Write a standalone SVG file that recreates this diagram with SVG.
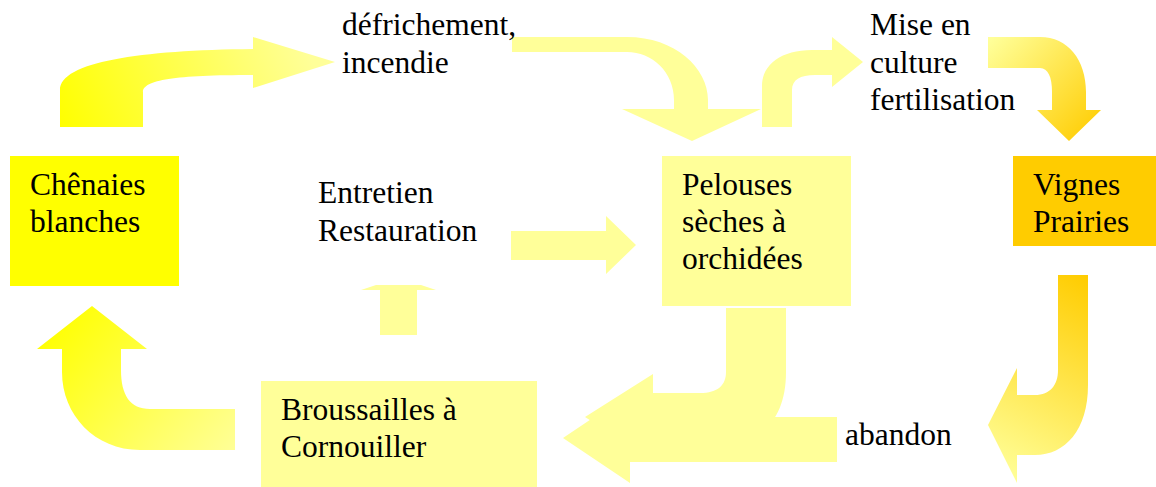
<svg xmlns="http://www.w3.org/2000/svg" width="1156" height="487" viewBox="0 0 1156 487">
<style>
  .t { font-family: "Liberation Serif", "Times New Roman", serif; font-size: 31.5px; fill: #000; }
  .light { fill: #FFFF99; }
</style>
<defs>
  <linearGradient id="g1" gradientUnits="userSpaceOnUse" x1="60" y1="127" x2="300" y2="30">
    <stop offset="0" stop-color="#FFFF00"/>
    <stop offset="1" stop-color="#FFFF99"/>
  </linearGradient>
  <linearGradient id="g4" gradientUnits="userSpaceOnUse" x1="990" y1="40" x2="1095" y2="140">
    <stop offset="0" stop-color="#FFFF99"/>
    <stop offset="1" stop-color="#FFCC00"/>
  </linearGradient>
  <linearGradient id="g5" gradientUnits="userSpaceOnUse" x1="1095" y1="280" x2="990" y2="470">
    <stop offset="0" stop-color="#FFCC00"/>
    <stop offset="1" stop-color="#FFFF99"/>
  </linearGradient>
  <linearGradient id="g8" gradientUnits="userSpaceOnUse" x1="60" y1="310" x2="235" y2="455">
    <stop offset="0" stop-color="#FFFF00"/>
    <stop offset="1" stop-color="#FFFF99"/>
  </linearGradient>
</defs>
<rect width="1156" height="487" fill="#FFFFFF"/>

<g id="connectors">
  <path id="a-chenaies-defrichement" fill="url(#g1)" d="M60,127 V90 C60,62 140,50 253,49 V37 L335,62 L253,88 V75 C175,75 143,80 143,92 V127 Z"/>
  <path id="a-defrichement-pelouses" class="light" d="M512,37 H627 C675,37 708,68 708,100 V109 H761 L692,141 L622,109 H674 V100 C674,72 652,52 627,52 H512 Z"/>
  <path id="a-pelouses-mise" class="light" d="M762,127 V86 C762,64 782,50 812,50 H832 V37 L863,62 L832,87 V75 H815 C800,75 792,80 792,90 V127 Z"/>
  <path id="a-mise-vignes" fill="url(#g4)" d="M988,37 H1040 C1068,37 1086,60 1086,92 V110 H1101 L1069,141 L1037,110 H1052 V92 C1052,77 1048,68 1040,68 H988 Z"/>
  <path id="a-vignes-abandon" fill="url(#g5)" d="M1058,275 H1088 V385 C1088,430 1065,455 1035,455 H1017 V483 L988,425 L1017,368 V395 H1035 C1050,395 1058,385 1058,370 Z"/>
  <path id="a-pelouses-broussailles" class="light" d="M726,308 H786 V372 C786,410 770,432 745,441 H653 V460 L585,417 L653,374 V393 H700 C718,393 726,385 726,372 Z"/>
  <path id="a-abandon-broussailles" class="light" d="M837,417 V462 H630 V483 L563,438 L630,393 V417 Z"/>
  <path id="a-broussailles-chenaies" fill="url(#g8)" d="M235,409 V450 H140 C95,450 62,415 62,372 V349 H37 L92,306 L147,349 H121 V370 C121,395 130,409 150,409 Z"/>
  <path id="a-entretien-pelouses" class="light" d="M511,231 H606 V216 L636,245 L606,274 V260 H511 Z"/>
  <path id="a-broussailles-entretien" class="light" d="M380,335 V290 H361 L376,285 H421 L436,290 H417 V335 Z"/>
</g>

<g id="chenaies">
  <rect x="10" y="156" width="169" height="130" fill="#FFFF00"/>
  <text class="t" x="30" y="195">Chênaies</text>
  <text class="t" x="30" y="232">blanches</text>
</g>
<g id="pelouses">
  <rect x="662" y="156" width="189" height="150" class="light"/>
  <text class="t" x="682" y="195">Pelouses</text>
  <text class="t" x="682" y="232">sèches à</text>
  <text class="t" x="682" y="269">orchidées</text>
</g>
<g id="vignes">
  <rect x="1013" y="156" width="143" height="90" fill="#FFCC00"/>
  <text class="t" x="1033" y="195">Vignes</text>
  <text class="t" x="1033" y="232">Prairies</text>
</g>
<g id="broussailles">
  <rect x="261" y="381" width="276" height="106" class="light"/>
  <text class="t" x="281" y="420">Broussailles à</text>
  <text class="t" x="281" y="457">Cornouiller</text>
</g>

<g id="label-defrichement">
  <text class="t" x="342" y="35">défrichement,</text>
  <text class="t" x="342" y="73">incendie</text>
</g>
<g id="label-mise">
  <text class="t" x="870" y="35">Mise en</text>
  <text class="t" x="870" y="73">culture</text>
  <text class="t" x="870" y="110">fertilisation</text>
</g>
<g id="label-entretien">
  <text class="t" x="318" y="203">Entretien</text>
  <text class="t" x="318" y="241">Restauration</text>
</g>
<g id="label-abandon">
  <text class="t" x="845" y="445">abandon</text>
</g>
</svg>
